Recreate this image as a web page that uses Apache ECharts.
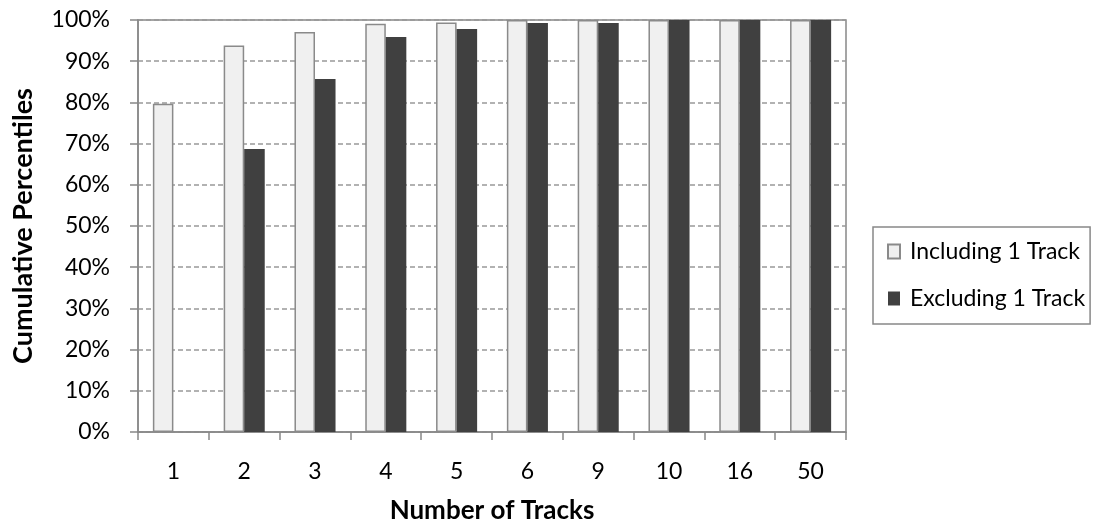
<!DOCTYPE html>
<html>
<head>
<meta charset="utf-8">
<script src="https://cdn.jsdelivr.net/npm/echarts@6/dist/echarts.min.js"></script>
<style>
html,body{margin:0;padding:0;background:#fff;}
#chart{width:1096px;height:526px;}
</style>
</head>
<body>
<div id="chart"></div>
<script>
const categories = ['1','2','3','4','5','6','9','10','16','50'];
const including = [79.7, 93.8, 97.1, 99.1, 99.4, 100, 100, 100, 100, 100];
const excluding = [0, 68.7, 85.7, 95.9, 97.8, 99.3, 99.3, 100, 100, 100];
const seriesNames = ['Including 1 Track', 'Excluding 1 Track'];
const yTicks = {min: 0, max: 100, interval: 10};

const FONT = 'Lato, "Open Sans", sans-serif';
const chart = echarts.init(document.getElementById('chart'), null, {renderer: 'canvas'});
chart.setOption({
  animation: false,
  textStyle: {fontFamily: FONT},
  grid: {left: 138, right: 250, top: 20, bottom: 94, show: true, borderColor: '#888', borderWidth: 1.5, containLabel: false, outerBoundsMode: 'none'},
  legend: {
    orient: 'vertical', left: 873, top: 227,
    padding: [13, 5, 14, 14], itemGap: 24,
    borderColor: '#888', borderWidth: 1.5,
    itemWidth: 12, itemHeight: 14,
    textStyle: {fontSize: 23, color: '#000', fontFamily: FONT, padding: [0, 0, 0, 5]},
    data: [
      {name: seriesNames[0], icon: 'rect'},
      {name: seriesNames[1], icon: 'rect'}
    ]
  },
  xAxis: {
    type: 'category', data: categories,
    name: 'Number of Tracks', nameLocation: 'middle', nameGap: 66,
    nameTextStyle: {fontSize: 26, fontWeight: 'bold', color: '#000', fontFamily: FONT},
    axisLine: {lineStyle: {color: '#888', width: 1.5}},
    axisTick: {show: true, length: 8, lineStyle: {color: '#888', width: 1.5}, alignWithLabel: false},
    axisLabel: {fontSize: 23, color: '#000', margin: 28, fontFamily: FONT}
  },
  yAxis: {
    type: 'value', min: yTicks.min, max: yTicks.max, interval: yTicks.interval,
    name: 'Cumulative Percentiles', nameLocation: 'middle', nameGap: 101, nameRotate: 90,
    nameTextStyle: {fontSize: 27, fontWeight: 'bold', color: '#000', fontFamily: FONT},
    axisLine: {show: true, lineStyle: {color: '#888', width: 1.5}},
    axisTick: {show: true, length: 8, lineStyle: {color: '#888', width: 1.5}},
    axisLabel: {formatter: '{value}%', fontSize: 23, color: '#000', margin: 28, fontFamily: FONT},
    splitLine: {lineStyle: {color: '#999', type: [5, 3], width: 1.5}}
  },
  series: [
    {
      name: seriesNames[0], type: 'bar', data: including,
      barGap: '0%', barCategoryGap: '42%',
      itemStyle: {color: '#f0f0f0', borderColor: '#8a8a8a', borderWidth: 1.5}
    },
    {
      name: seriesNames[1], type: 'bar', data: excluding,
      barGap: '0%', barCategoryGap: '42%',
      itemStyle: {color: '#404040'}
    }
  ]
});
</script>
</body>
</html>
